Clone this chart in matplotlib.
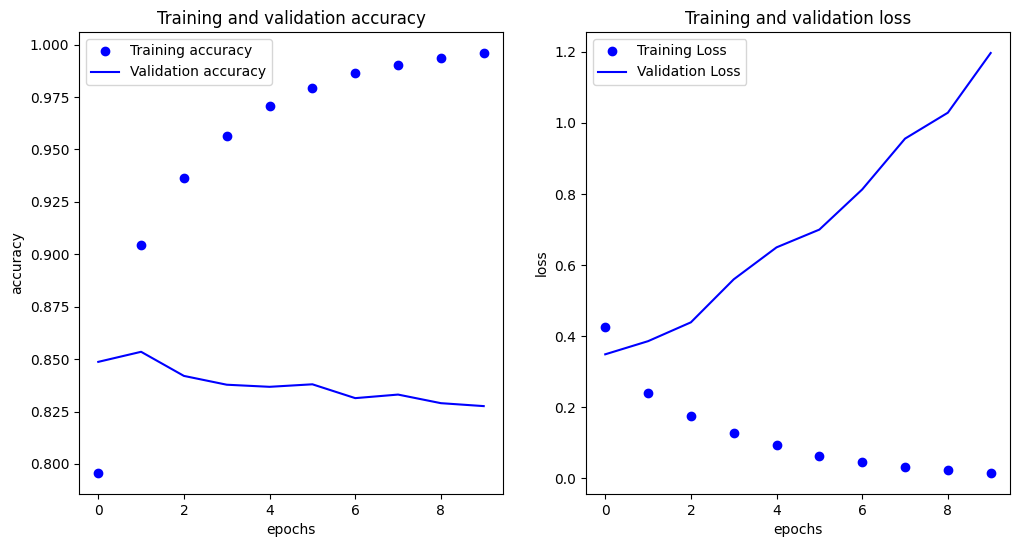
import matplotlib
matplotlib.use("Agg")
import matplotlib.pyplot as plt

epochs = list(range(10))
train_acc = [0.7957, 0.9045, 0.9365, 0.9566, 0.9709, 0.9793, 0.9866, 0.9905, 0.9936, 0.9960]
val_acc = [0.8487, 0.8535, 0.8420, 0.8378, 0.8368, 0.8380, 0.8314, 0.8331, 0.8290, 0.8276]
train_loss = [0.425, 0.240, 0.175, 0.127, 0.093, 0.062, 0.045, 0.032, 0.023, 0.015]
val_loss = [0.349, 0.386, 0.439, 0.560, 0.650, 0.700, 0.813, 0.956, 1.029, 1.197]

fig = plt.figure(figsize=(10.18, 5.47), dpi=100)
ax1 = fig.add_axes([0.0776, 0.0969, 0.4165, 0.8446])
ax2 = fig.add_axes([0.5756, 0.0969, 0.4165, 0.8446])

ax1.plot(epochs, train_acc, 'bo', label='Training accuracy')
ax1.plot(epochs, val_acc, 'b', label='Validation accuracy')
ax1.set_title('Training and validation accuracy')
ax1.set_xlabel('epochs')
ax1.set_ylabel('accuracy')
ax1.legend(loc='upper left')

ax2.plot(epochs, train_loss, 'bo', label='Training Loss')
ax2.plot(epochs, val_loss, 'b', label='Validation Loss')
ax2.set_title('Training and validation loss')
ax2.set_xlabel('epochs')
ax2.set_ylabel('loss')
ax2.legend(loc='upper left')

fig.savefig('out.png', dpi=100)
